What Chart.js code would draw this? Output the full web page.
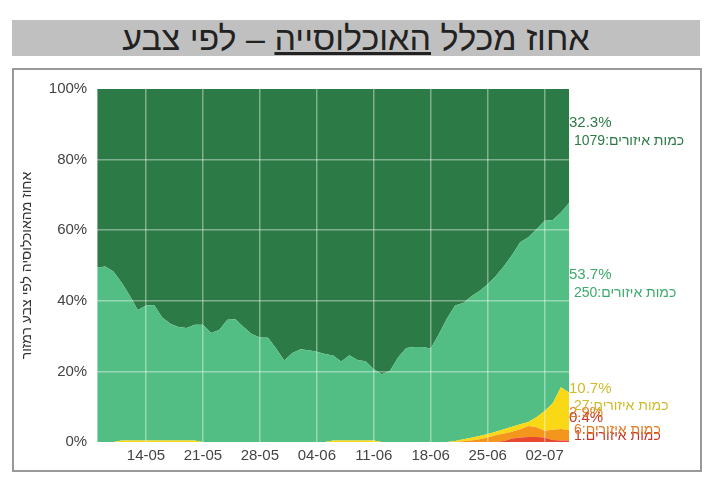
<!DOCTYPE html>
<html lang="he">
<head>
<meta charset="utf-8">
<script src="https://cdn.jsdelivr.net/npm/chart.js@4.4.0/dist/chart.umd.min.js"></script>
<style>
  body { margin: 0; background: #fff; width: 720px; height: 482px; position: relative; overflow: hidden; }
  #title {
    position: absolute; left: 12px; top: 20px; width: 688px; height: 36px;
    background: #c0c0c0; text-align: center; direction: rtl;
    font-family: "Liberation Sans", Arial, sans-serif; font-size: 34px; line-height: 37px; color: #222;
  }
  #frame {
    position: absolute; left: 12px; top: 68px; width: 686px; height: 400px;
    border: 2px solid #999;
  }
</style>
</head>
<body>
<div id="title">אחוז מכלל <u>האוכלוסייה</u> – לפי צבע</div>
<div id="frame"><canvas id="chart" width="686" height="400"></canvas></div>
<script>
// dates (dd-mm)
const dates = [
  "08-05","09-05","10-05","11-05","12-05","13-05","14-05","15-05","16-05","17-05",
  "18-05","19-05","20-05","21-05","22-05","23-05","24-05","25-05","26-05","27-05",
  "28-05","29-05","30-05","31-05","01-06","02-06","03-06","04-06","05-06","06-06",
  "07-06","08-06","09-06","10-06","11-06","12-06","13-06","14-06","15-06","16-06",
  "17-06","18-06","19-06","20-06","21-06","22-06","23-06","24-06","25-06","26-06",
  "27-06","28-06","29-06","30-06","01-07","02-07","03-07","04-07","05-07"
];

// percent of population per colour
const red = [
  0,0,0,0,0,0,0,0,0,0, 0,0,0,0,0,0,0,0,0,0, 0,0,0,0,0,0,0,0,0,0,
  0,0,0,0,0,0,0,0,0,0, 0,0,0,0,0,0,0,0,0,0, 0.3,1.0,1.3,1.4,1.4,1.3,0.6,0.4,0.4
];
const orange = [
  0,0,0,0,0,0,0,0,0,0, 0,0,0,0,0,0,0,0,0,0, 0,0,0,0,0,0,0,0,0,0,
  0,0,0,0,0,0,0,0,0,0, 0,0,0,0,0,0.2,0.4,0.8,1.3,1.9, 2.1,1.9,2.3,3.1,2.8,1.9,2.9,3.3,2.9
];
const yellow = [
  0,0,0,0.4,0.4,0.4,0.4,0.4,0.4,0.4, 0.4,0.4,0.4,0,0,0,0,0,0,0, 0,0,0,0,0,0,0,0,0,0.4,
  0.4,0.4,0.4,0.4,0.4,0,0,0,0,0, 0,0,0,0,0.3,0.6,0.8,0.9,1.0,1.0, 1.2,1.4,1.4,1.2,2.8,5.6,7.5,11.8,10.7
];
const lightGreen = [
  49.4,49.7,48.3,44.8,41.1,37.0,38.3,38.4,34.9,33.1,
  32.2,31.9,32.8,33.2,30.9,31.7,34.6,34.8,32.6,30.6,
  29.6,29.5,26.5,23.1,25.2,26.3,26.0,25.6,24.9,24.1,
  22.4,24.2,22.8,22.5,20.2,19.2,20.2,24.0,26.6,26.9,
  26.9,26.5,30.5,35.0,38.4,38.6,40.1,41.1,42.4,44.1,
  46.2,48.7,51.6,52.3,53.3,53.9,51.9,49.5,53.7
];
const darkGreen = [
  50.6,50.3,51.7,54.8,58.5,62.6,61.3,61.2,64.7,66.5,
  67.4,67.7,66.8,66.8,69.1,68.3,65.4,65.2,67.4,69.4,
  70.4,70.5,73.5,76.9,74.8,73.7,74.0,74.4,75.1,75.5,
  77.2,75.4,76.8,77.1,79.4,80.8,79.8,76.0,73.4,73.1,
  73.1,73.5,69.5,65.0,61.3,60.6,58.7,57.2,55.3,53.0,
  50.2,47.0,43.4,42.0,39.7,37.3,37.1,35.0,32.3
];

// labels on the right side (bottom to top)
const lastPct = ["0.4%", "2.9%", "10.7%", "53.7%", "32.3%"];
const areaCounts = [1, 6, 27, 250, 1079];

const fills = ["#e8482f", "#f5961c", "#f9d915", "#53be83", "#2c7a45"];
const textColors = ["#c0392b", "#e07a25", "#cdbb2a", "#3daa6c", "#2c7a45"];
const series = [red, orange, yellow, lightGreen, darkGreen];

const font = '"Liberation Sans", Arial, sans-serif';
const weekTicks = (i) => (i - 6) % 7 === 0;

const sideLabels = {
  id: "sideLabels",
  afterDatasetsDraw(chart) {
    const ctx = chart.ctx;
    const x = chart.chartArea.right;
    ctx.save();
    ctx.direction = "rtl";
    ctx.textAlign = "left";
    ctx.textBaseline = "middle";
    chart.data.datasets.forEach((ds, k) => {
      const meta = chart.getDatasetMeta(k);
      const pt = meta.data[meta.data.length - 1];
      const top = pt.y;
      const base = k === 0 ? chart.scales.y.getPixelForValue(0) : chart.getDatasetMeta(k - 1).data[meta.data.length - 1].y;
      const mid = (top + base) / 2;
      ctx.fillStyle = textColors[k];
      ctx.font = "15px " + font;
      ctx.fillText(lastPct[k], x, mid - 23);
      ctx.font = "14px " + font;
      ctx.fillText("כמות איזורים:" + areaCounts[k], x + 5, mid - 5);
    });
    ctx.restore();
  }
};

new Chart("chart", {
  type: "line",
  data: {
    labels: dates,
    datasets: series.map((d, k) => ({
      data: d,
      backgroundColor: fills[k],
      borderWidth: 0,
      pointRadius: 0,
      fill: k === 0 ? "origin" : "-1",
    })),
  },
  options: {
    responsive: false,
    animation: false,
    layout: { padding: { left: 5, right: 131, top: 10, bottom: 0 } },
    plugins: { legend: { display: false }, tooltip: { enabled: false } },
    scales: {
      x: {
        offset: false,
        grid: {
          z: 1,
          drawTicks: false,
          lineWidth: 1.5,
          color: (c) => (weekTicks(c.index) ? "rgba(255,255,255,0.4)" : "transparent"),
        },
        border: { display: false },
        ticks: {
          autoSkip: false,
          maxRotation: 0,
          padding: 5,
          color: "#444",
          font: { size: 15, family: font },
          callback: (v, i) => (weekTicks(i) ? dates[i] : ""),
        },
      },
      y: {
        stacked: true,
        min: 0,
        max: 100,
        grid: {
          z: 1,
          drawTicks: false,
          lineWidth: 1.5,
          color: (c) => (c.tick && c.tick.value > 0 && c.tick.value < 100 ? "rgba(255,255,255,0.4)" : "transparent"),
        },
        border: { display: false },
        ticks: {
          stepSize: 20,
          padding: 10,
          color: "#444",
          font: { size: 15, family: font },
          callback: (v) => v + "%",
        },
        title: {
          display: true,
          text: "אחוז מהאוכלוסיה לפי צבע רמזור",
          color: "#333",
          font: { size: 14, family: font },
          padding: { top: 0, bottom: 3 },
        },
      },
    },
  },
  plugins: [sideLabels],
});
</script>
</body>
</html>
